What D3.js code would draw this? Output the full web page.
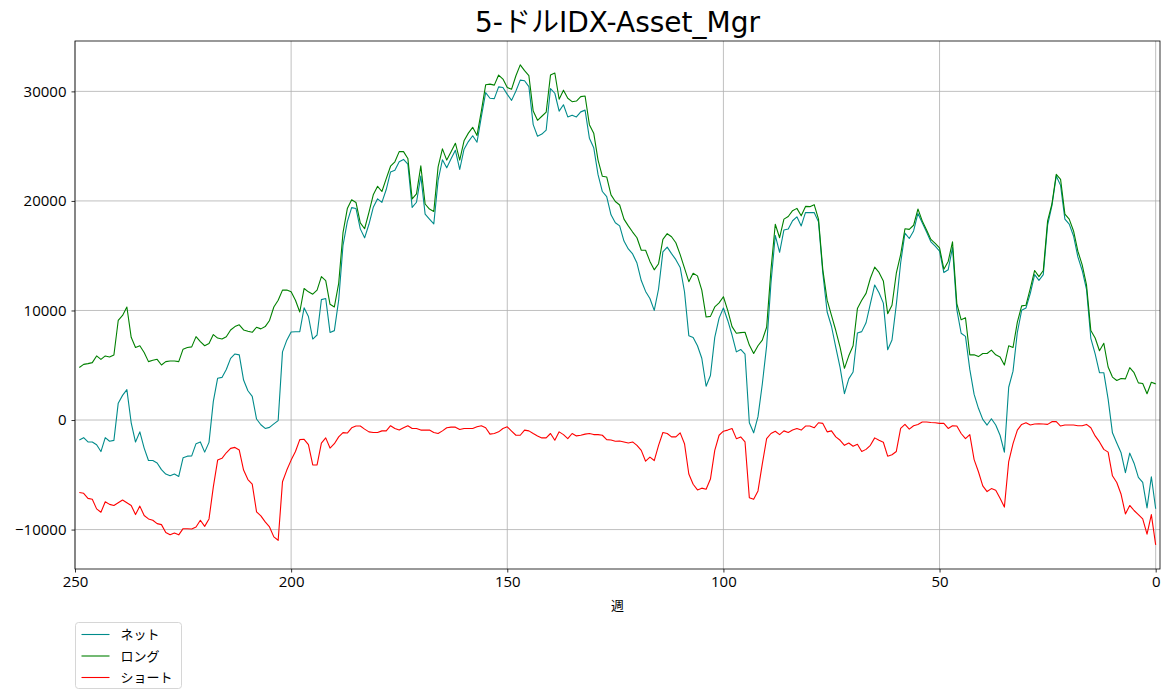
<!DOCTYPE html>
<html>
<head>
<meta charset="utf-8">
<script src="https://cdn.jsdelivr.net/npm/d3@7"></script>
<style>
body{margin:0;background:#fff;}
svg{font-family:"Noto Sans CJK JP","Noto Sans",sans-serif;}
</style>
</head>
<body>
<div id="chart"></div>
<script>
const title = "5-ドルIDX-Asset_Mgr";
const xLabel = "週";
const seriesNames = ["ネット", "ロング", "ショート"];
const seriesColors = ["#008b8b", "#008000", "#ff0000"];
const xTicks = [250, 200, 150, 100, 50, 0];
const yTicks = [-10000, 0, 10000, 20000, 30000];

// weeks back from the latest report: 249 ... 0
const weeks = d3.range(249, -1, -1);

const longVals = [
  4800,5080,5150,5240,5850,5540,5850,5760,5940,9090,
  9550,10320,7550,6620,6780,6160,5330,5450,5540,5020,
  5330,5390,5390,5330,6470,6620,6680,7610,7150,6780,
  6990,7800,7480,7390,7600,8220,8530,8690,8220,8100,
  8010,8470,8320,8530,9090,10320,10930,11860,11860,11700,
  10930,9860,12010,11700,11490,11860,13090,12720,10560,10320,
  12480,17100,19300,20100,19860,18000,17460,18950,20560,21330,
  20860,22030,23170,23570,24500,24500,23880,20180,20650,23200,
  19720,19260,19040,23110,24750,23730,24500,25270,23730,25490,
  26190,26720,25980,28200,30600,30660,30570,31490,31120,30350,
  30200,31430,32420,31890,31430,28200,27360,27730,28100,31490,
  31680,29280,30110,29370,29060,29120,29520,29580,26960,26190,
  23730,22250,22190,20550,19950,19630,18340,17720,17160,16640,
  15500,15500,14480,13710,14270,16490,17010,16730,16180,15100,
  13870,12630,13400,13160,11860,9400,9460,10320,10690,11250,
  10010,8530,7920,7980,8010,6840,6070,6780,7300,8470,
  13710,17870,16640,18340,18580,19110,19320,18640,19500,19480,
  19660,18340,13710,10940,9550,8170,6630,4720,5860,6780,
  10170,10940,11560,12940,13960,13470,12700,9710,10480,13400,
  15100,17460,17400,17780,19260,18180,17350,16490,16120,15720,
  13770,14480,16270,10630,9150,9340,5950,5950,5790,6070,
  6070,6380,5950,5760,5020,6780,6620,8930,10420,10480,
  12020,13650,13090,13650,18180,19720,22430,21970,18800,18340,
  17260,15410,14170,12330,8170,7490,6320,7000,4840,3920,
  3610,3790,3760,4780,4320,3390,3330,2400,3450,3300
];

const shortVals = [
  -6620,-6690,-7150,-7240,-8110,-8420,-7460,-7700,-7800,-7550,
  -7300,-7550,-7800,-8630,-7860,-8720,-9030,-9150,-9460,-9550,
  -10260,-10480,-10320,-10480,-9920,-9920,-9950,-9770,-9150,-9710,
  -9030,-6100,-3660,-3500,-2990,-2590,-2500,-2740,-4570,-5430,
  -5850,-8380,-8750,-9300,-9760,-10670,-10980,-5640,-4570,-3660,
  -2870,-1790,-1760,-2250,-4100,-4100,-2100,-1630,-2560,-2160,
  -1540,-1150,-1190,-710,-550,-550,-830,-1080,-1140,-1140,
  -990,-990,-520,-770,-920,-710,-520,-770,-770,-920,
  -920,-920,-1140,-1230,-990,-710,-650,-650,-860,-770,
  -770,-770,-620,-520,-710,-1290,-1230,-1080,-770,-620,
  -1020,-1390,-1390,-920,-990,-1230,-1450,-1630,-1630,-1230,
  -1850,-1080,-1330,-1700,-1230,-1450,-1390,-1290,-1230,-1330,
  -1330,-1390,-1790,-1820,-1940,-1910,-2000,-2100,-2000,-2310,
  -2770,-3760,-3390,-3700,-2310,-1140,-1230,-1540,-1540,-1170,
  -2160,-4930,-5860,-6380,-6220,-6320,-5390,-2770,-1390,-1020,
  -920,-770,-1700,-1540,-2000,-7090,-7240,-6470,-4010,-1700,
  -1230,-1020,-1330,-990,-1140,-920,-770,-920,-550,-550,
  -710,-250,-310,-1080,-990,-1540,-1850,-2310,-2100,-2400,
  -2220,-2870,-2680,-2310,-1630,-1850,-2030,-3300,-3170,-2870,
  -770,-400,-830,-520,-400,-180,-180,-220,-250,-310,
  -310,-770,-520,-550,-1230,-1700,-1330,-3610,-4720,-6010,
  -6530,-6260,-6410,-7150,-7950,-3790,-2160,-920,-400,-250,
  -460,-370,-340,-370,-400,-150,-150,-550,-460,-460,
  -460,-520,-520,-400,-710,-1450,-2000,-2680,-2930,-5090,
  -5700,-6780,-8570,-7800,-8260,-8630,-9030,-10420,-8630,-11400
];

const netVals = [
  -1820,-1610,-2000,-2000,-2260,-2880,-1610,-1940,-1860,1540,
  2250,2770,-250,-2010,-1080,-2560,-3700,-3700,-3920,-4530,
  -4930,-5090,-4930,-5150,-3450,-3300,-3270,-2160,-2000,-2930,
  -2040,1700,3820,3890,4610,5630,6030,5950,3650,2670,
  2160,90,-430,-770,-670,-350,-50,6220,7290,8040,
  8060,8070,10250,9450,7390,7760,10990,11090,8000,8160,
  10940,15950,18110,19390,19310,17450,16630,17870,19420,20190,
  19870,21040,22650,22800,23580,23790,23360,19410,19880,22280,
  18800,18340,17900,21880,23760,23020,23850,24620,22870,24720,
  25420,25950,25360,27680,29890,29370,29340,30410,30350,29730,
  29180,30040,31030,30970,30440,26970,25910,26100,26470,30260,
  29830,28200,28780,27670,27830,27670,28130,28290,25730,24860,
  22400,20860,20400,18730,18010,17720,16340,15620,15160,14330,
  12730,11740,11090,10010,11960,15350,15780,15190,14640,13930,
  11710,7700,7540,6780,5640,3080,4070,7550,9300,10230,
  9090,7760,6220,6440,6010,-250,-1170,310,3290,6770,
  12480,16850,15310,17350,17440,18190,18550,17720,18950,18930,
  18950,18090,13400,9860,8560,6630,4780,2410,3760,4380,
  7950,8070,8880,10630,12330,11620,10670,6410,7310,10530,
  14330,17060,16570,17260,18860,18000,17170,16270,15870,15410,
  13460,13710,15750,10080,7920,7640,4620,2340,1070,60,
  -460,120,-460,-1390,-2930,2990,4460,8010,10020,10230,
  11560,13280,12750,13280,17780,19570,22280,21420,18340,17880,
  16800,14890,13650,11930,7460,6040,4320,4320,1910,-1170,
  -2090,-2990,-4810,-3020,-3940,-5240,-5700,-8020,-5180,-8100
];

let width = 1170, height = 699;
let margin = {left: 75, right: 10, top: 41, bottom: 130};

let svg = d3.select("#chart").append("svg")
  .attr("width", width).attr("height", height);

let x = d3.scaleLinear().domain([250, -1]).range([margin.left, width - margin.right]);
let y = d3.scaleLinear().domain([-13600, 34600]).range([height - margin.bottom, margin.top]);

let fmt = (v) => v < 0 ? "\u2212" + Math.abs(v) : String(v);

// grid
let grid = svg.append("g").attr("stroke", "#b0b0b0").attr("stroke-width", 0.8);
xTicks.forEach((t) => {
  grid.append("line").attr("x1", x(t)).attr("x2", x(t)).attr("y1", y.range()[1]).attr("y2", y.range()[0]);
});
yTicks.forEach((t) => {
  grid.append("line").attr("x1", x.range()[0]).attr("x2", x.range()[1]).attr("y1", y(t)).attr("y2", y(t));
});

// series (net drawn first, like the original)
let seriesData = [netVals, longVals, shortVals];
let line = d3.line().x((d) => x(d.w)).y((d) => y(d.v));
seriesData.forEach((vals, i) => {
  let pts = weeks.map((w, j) => ({w: w, v: vals[j]}));
  svg.append("path").datum(pts)
    .attr("fill", "none")
    .attr("stroke", seriesColors[i])
    .attr("stroke-width", 1.1)
    .attr("stroke-linejoin", "round")
    .attr("d", line);
});

// axes
let xAxis = svg.append("g")
  .attr("transform", `translate(0,${y.range()[0]})`)
  .call(d3.axisBottom(x).tickValues(xTicks).tickSize(3.5).tickPadding(4).tickFormat(fmt));
let yAxis = svg.append("g")
  .attr("transform", `translate(${x.range()[0]},0)`)
  .call(d3.axisLeft(y).tickValues(yTicks).tickSize(3.5).tickPadding(5).tickFormat(fmt));
[xAxis, yAxis].forEach((a) => {
  a.select(".domain").remove();
  a.selectAll("text").attr("font-size", 15).attr("fill", "#000")
    .attr("font-family", "'Open Sans', sans-serif");
  a.selectAll("line").attr("stroke", "#000").attr("stroke-width", 0.8);
});

// frame
svg.append("rect")
  .attr("x", x.range()[0]).attr("y", y.range()[1])
  .attr("width", x.range()[1] - x.range()[0])
  .attr("height", y.range()[0] - y.range()[1])
  .attr("fill", "none").attr("stroke", "#000").attr("stroke-width", 0.8);

// title and axis label
svg.append("text")
  .attr("x", (x.range()[0] + x.range()[1]) / 2).attr("y", 32)
  .attr("text-anchor", "middle").attr("font-size", 28)
  .attr("font-family", "'DejaVu Sans', 'Noto Sans CJK JP', sans-serif")
  .text(title);
svg.append("text")
  .attr("x", (x.range()[0] + x.range()[1]) / 2).attr("y", 610)
  .attr("text-anchor", "middle").attr("font-size", 13)
  .text(xLabel);

// legend
let lg = svg.append("g").attr("transform", "translate(75.5,622.5)");
lg.append("rect").attr("width", 106).attr("height", 66).attr("rx", 3)
  .attr("fill", "#fff").attr("fill-opacity", 0.8)
  .attr("stroke", "#cccccc").attr("stroke-width", 0.8);
seriesNames.forEach((name, i) => {
  let yy = 12 + i * 21.5;
  lg.append("line").attr("x1", 6).attr("x2", 34).attr("y1", yy).attr("y2", yy)
    .attr("stroke", seriesColors[i]).attr("stroke-width", 1.1);
  lg.append("text").attr("x", 45).attr("y", yy).attr("dy", "0.35em")
    .attr("font-size", 13).text(name);
});
</script>
</body>
</html>
